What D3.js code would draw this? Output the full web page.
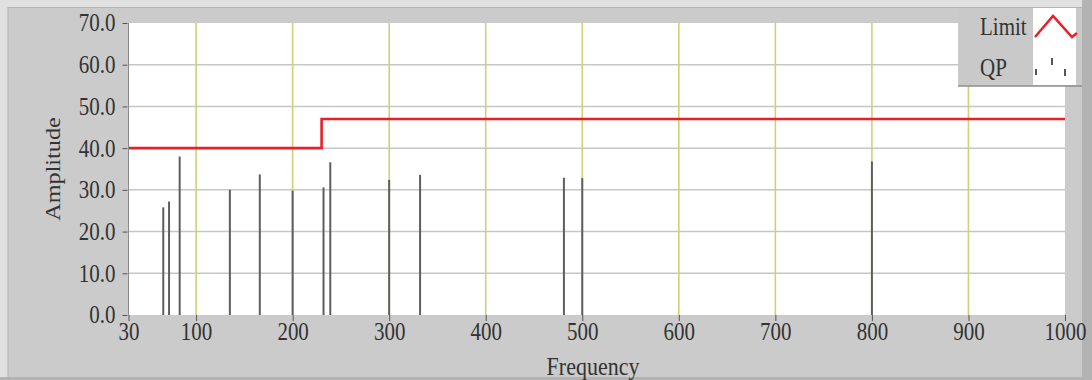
<!DOCTYPE html>
<html>
<head>
<meta charset="utf-8">
<script src="https://cdn.jsdelivr.net/npm/d3@7/dist/d3.min.js"></script>
<style>
  html, body { margin: 0; padding: 0; background: #cbcbcb; }
  svg { display: block; }
  text { font-family: "Liberation Serif", "DejaVu Serif", serif; fill: #333; }
</style>
</head>
<body>
<svg id="chart" width="1092" height="380"></svg>
<script>
// ---- data ----
const qpFreq   = [66, 72, 83, 135, 166, 200, 232, 239, 300, 332, 481, 500, 800];
const qpValues = [25.8, 27.2, 38.0, 30.0, 33.7, 29.8, 30.6, 36.6, 32.4, 33.6, 32.9, 32.8, 36.8];
const limitFreq   = [30, 230, 230, 1000];
const limitValues = [40, 40, 47, 47];
const xTicks = [30, 100, 200, 300, 400, 500, 600, 700, 800, 900, 1000];
const yTicks = [0, 10, 20, 30, 40, 50, 60, 70];
const legendLabels = ["Limit", "QP"];

// ---- layout ----
const W = 1092, H = 380;
const plot = { left: 128.5, right: 1065, top: 23, bottom: 315 };
const SY = 1.18; // vertical stretch of the text
const svg = d3.select("#chart");

const x = d3.scaleLinear().domain([30, 1000]).range([plot.left, plot.right]);
const y = d3.scaleLinear().domain([0, 70]).range([plot.bottom, plot.top]);

// frame
svg.append("rect").attr("width", W).attr("height", H).attr("fill", "#cbcbcb");
svg.append("rect").attr("x", 0).attr("y", 0).attr("width", W).attr("height", 7).attr("fill", "#e0e0e0");
svg.append("rect").attr("x", 0).attr("y", 0).attr("width", 8).attr("height", H).attr("fill", "#e0e0e0");
svg.append("line").attr("x1", 8).attr("x2", 8).attr("y1", 7).attr("y2", H).attr("stroke", "#b4b4b4");
svg.append("line").attr("x1", 8).attr("x2", W).attr("y1", 7.5).attr("y2", 7.5).attr("stroke", "#b4b4b4");
svg.append("rect").attr("x", 1082).attr("y", 0).attr("width", 10).attr("height", H).attr("fill", "#b3b3b3");
svg.append("rect").attr("x", 0).attr("y", 377).attr("width", W).attr("height", 3).attr("fill", "#b3b3b3");

// plot background
svg.append("rect")
  .attr("x", plot.left).attr("y", plot.top)
  .attr("width", plot.right - plot.left).attr("height", plot.bottom - plot.top)
  .attr("fill", "#ffffff");

// grid
const g = svg.append("g");
g.selectAll("line.hg").data(yTicks.filter(d => d > 0 && d < 70)).join("line")
  .attr("class", "hg")
  .attr("x1", plot.left).attr("x2", plot.right)
  .attr("y1", d => y(d)).attr("y2", d => y(d))
  .attr("stroke", "#c6c6c6").attr("stroke-width", 1.5);
g.selectAll("line.vg").data(xTicks.filter(d => d > 30 && d < 1000)).join("line")
  .attr("class", "vg")
  .attr("x1", d => x(d)).attr("x2", d => x(d))
  .attr("y1", plot.top).attr("y2", plot.bottom)
  .attr("stroke", "#d0d078").attr("stroke-width", 1.6);

// QP bars
svg.append("g").selectAll("line").data(qpFreq).join("line")
  .attr("x1", d => x(d)).attr("x2", d => x(d))
  .attr("y1", y(0)).attr("y2", (d, i) => y(qpValues[i]))
  .attr("stroke", "#5e5e5e").attr("stroke-width", 2);

// Limit line
const limitData = limitFreq.map((f, i) => [f, limitValues[i]]);
svg.append("path")
  .datum(limitData)
  .attr("d", d3.line().x(d => x(d[0])).y(d => y(d[1])))
  .attr("fill", "none").attr("stroke", "#e8202a").attr("stroke-width", 2.6);

// axes
const yAxis = d3.axisLeft(y).tickValues(yTicks).tickFormat(d3.format(".1f")).tickSize(9).tickPadding(4);
const ya = svg.append("g").attr("transform", `translate(${plot.left},0)`).call(yAxis);
const xAxis = d3.axisBottom(x).tickValues(xTicks).tickFormat(d3.format("d")).tickSize(6).tickPadding(0);
const xa = svg.append("g").attr("transform", `translate(0,${plot.bottom})`).call(xAxis);
[ya, xa].forEach(a => {
  a.select(".domain").attr("stroke", "#8a8a8a").attr("stroke-width", 1);
  a.selectAll(".tick line").attr("stroke", "#555");
  a.selectAll(".tick text").attr("font-size", 21).attr("fill", "#333")
    .attr("transform", `scale(1,${SY})`)
    .style("font-family", "'Liberation Serif', serif");
});
ya.selectAll(".tick line").attr("x2", -6).attr("x1", -1);
xa.select(".domain").remove();
ya.select(".domain").attr("d", `M0,${plot.top}V${plot.bottom}`);

// axis titles
svg.append("text")
  .attr("transform", `translate(60,${(plot.top + plot.bottom) / 2}) rotate(-90) scale(1.1,1)`)
  .attr("text-anchor", "middle").attr("font-size", 22).text("Amplitude");
svg.append("text")
  .attr("transform", `translate(593,375) scale(1,1.1)`)
  .attr("text-anchor", "middle").attr("font-size", 22).text("Frequency");

// legend
const lg = svg.append("g").attr("transform", "translate(958,8)");
lg.append("rect").attr("width", 124).attr("height", 78).attr("fill", "#c9c9c9");
lg.append("line").attr("x1", 0).attr("x2", 124).attr("y1", 78).attr("y2", 78).attr("stroke", "#8e8e8e").attr("stroke-width", 1.5);
lg.append("rect").attr("x", 75).attr("y", 0).attr("width", 43).attr("height", 77).attr("fill", "#ffffff");
lg.selectAll("text").data(legendLabels).join("text")
  .attr("transform", (d, i) => `translate(22,${27 + i * 41}) scale(1,${SY})`)
  .attr("font-size", 21).attr("fill", "#333").text(d => d);
lg.append("path")
  .attr("d", "M77,29L95,8L114,29L119,25")
  .attr("fill", "none").attr("stroke", "#e8202a").attr("stroke-width", 2.5);
lg.append("path")
  .attr("d", "M78,61V67M94,50V57M107,61V68")
  .attr("fill", "none").attr("stroke", "#555").attr("stroke-width", 2);
</script>
</body>
</html>
